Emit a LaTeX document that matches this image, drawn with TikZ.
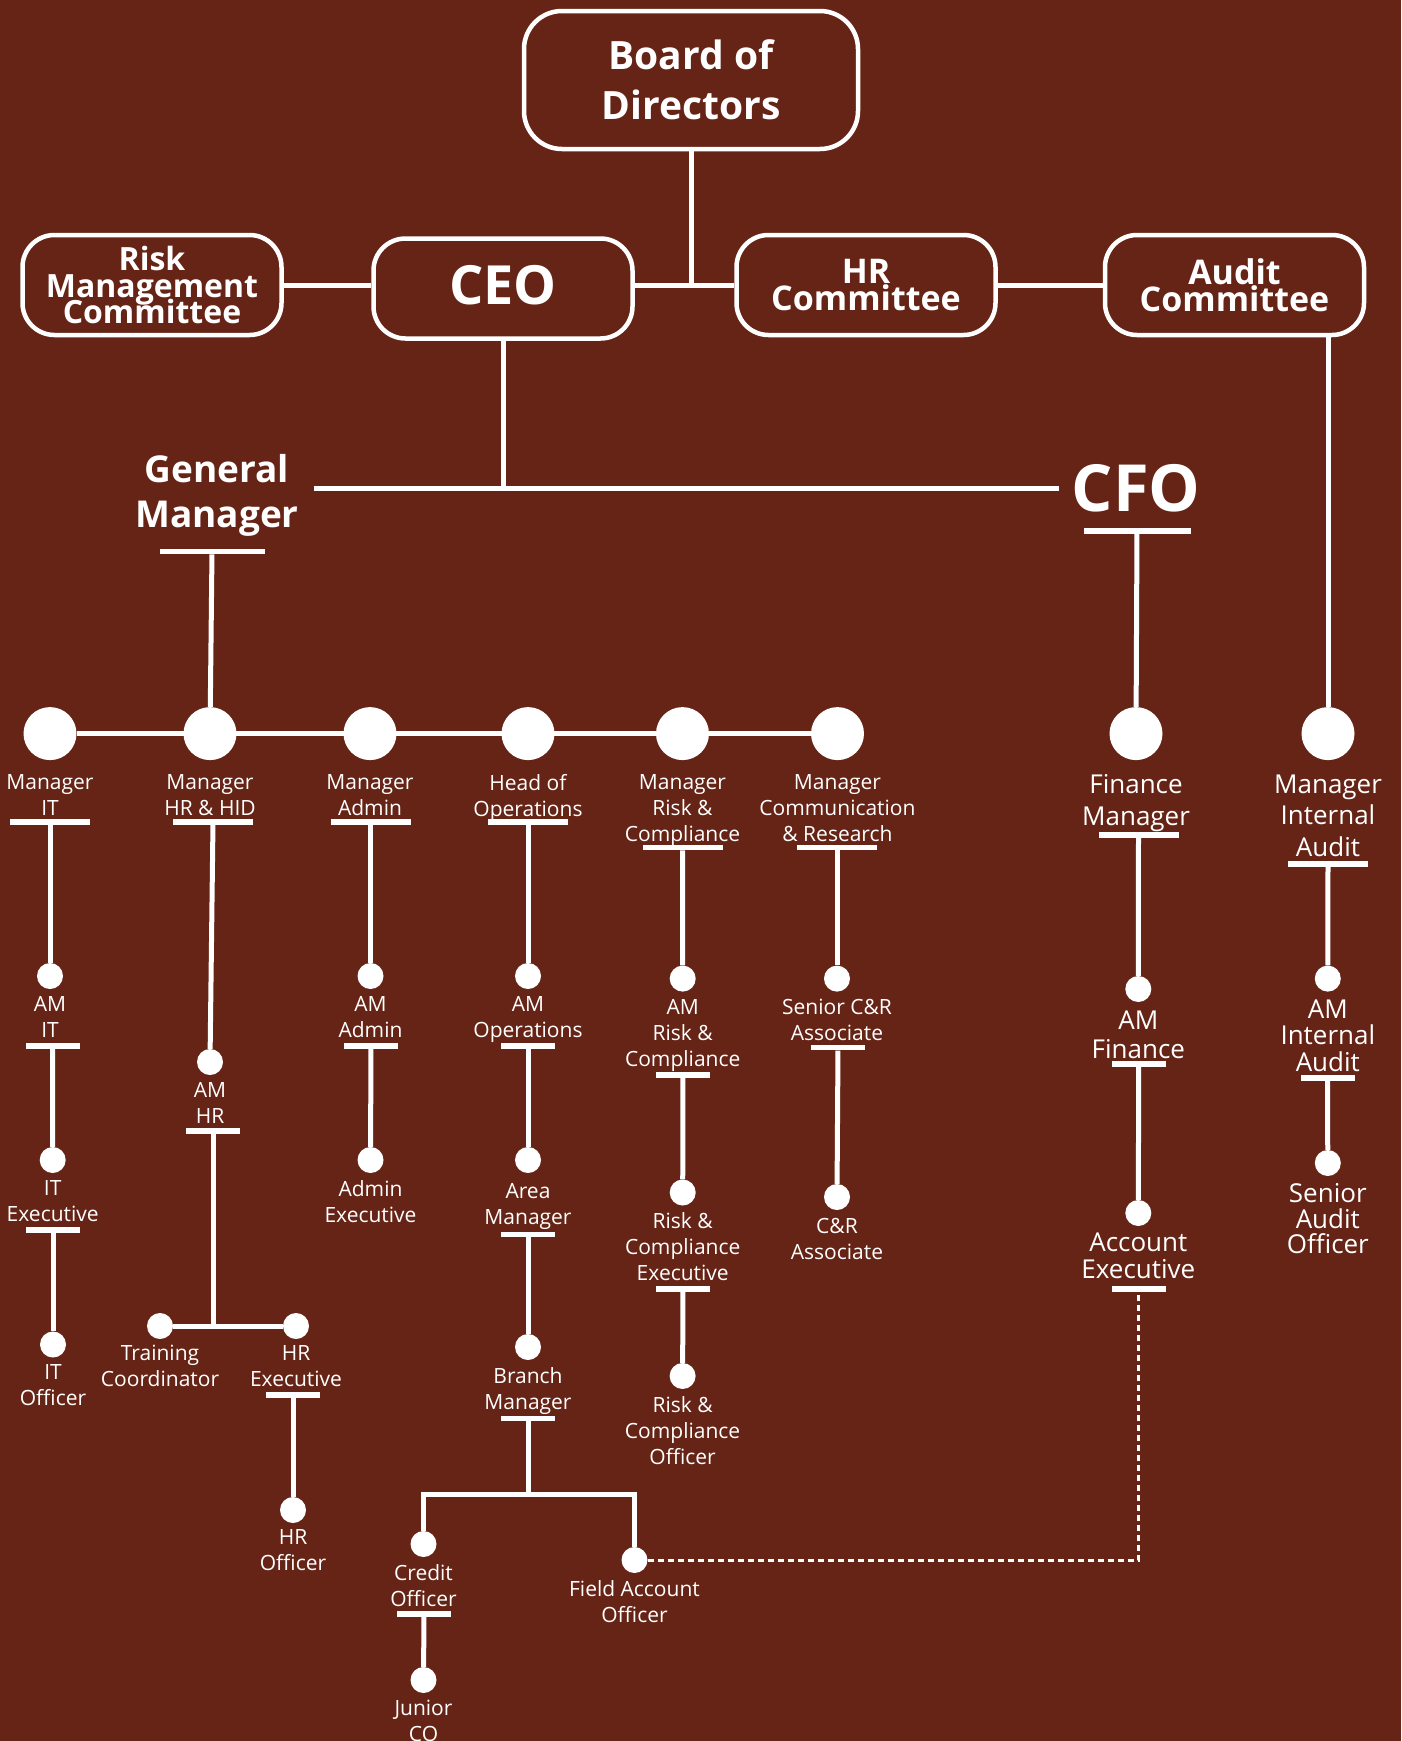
\documentclass[tikz,border=0pt]{standalone}
\usepackage{fontspec}
\setmainfont{Open Sans}
\usetikzlibrary{positioning}
\definecolor{bgbrown}{RGB}{102,36,22}
\newcommand\tightlead{\lineskiplimit-100pt\relax}
\tikzset{
	rolebox/.style={draw=white, line width=4.5pt, rounded corners=32pt, text=white, align=center, inner sep=0pt, minimum width=259pt, minimum height=100pt},
	head/.style={text=white, align=center, inner sep=0pt},
	bigdot/.style={circle, fill=white, minimum size=53pt, inner sep=0pt},
	subdot/.style={circle, fill=white, minimum size=26pt, inner sep=0pt},
	lbl/.style={text=white, align=center, inner sep=0pt, font=\fontsize{21}{26}\selectfont},
	flbl/.style={lbl, font=\fontsize{26}{26.5}\selectfont},
	bar/.style={fill=white, inner sep=0pt, minimum width=80pt, minimum height=5.5pt},
	subbar/.style={bar, minimum width=54pt},
	wire/.style={draw=white, line width=5pt},
	dashlink/.style={draw=white, line width=3pt, dash pattern=on 6pt off 4pt},
}
\begin{document}
\begin{tikzpicture}[x=1pt,y=-1pt]
	\fill[bgbrown] (0,0) rectangle (1401,1741);
	\useasboundingbox (0,0) rectangle (1401,1741);
	% top boxes
	\node[rolebox, minimum width=334pt, minimum height=138pt, rounded corners=38pt, font=\bfseries\fontsize{39}{50}\selectfont]	(board) at (691,80)	{Board of\\Directors};
	\node[rolebox, text depth=8pt, font=\bfseries\fontsize{54}{60}\selectfont]	(ceo) at (503,288.5)	{CEO};
	\node[rolebox, font=\bfseries\fontsize{32}{26.5}\selectfont\tightlead]	(rmc) at (152,285)	{Risk\\Management\\Committee};
	\node[rolebox, font=\bfseries\fontsize{34}{27}\selectfont\tightlead]	(hrc) at (866,285)	{HR\\Committee};
	\node[rolebox, font=\bfseries\fontsize{34}{27}\selectfont\tightlead]	(adc) at (1234.5,285)	{Audit\\Committee};
	\node[head, anchor=north, inner xsep=15pt, font=\bfseries\fontsize{37}{45.5}\selectfont]	(gm) at (217,454)	{General\\Manager};
	\node[head, inner xsep=12pt, font=\bfseries\fontsize{65}{72}\selectfont]	(cfo) at (1136,488.5)	{CFO};
	\node[bar, minimum width=105pt]	(gmbar) at (212,551.5)	{};
	\node[bar, minimum width=107pt]	(cfobar) at (1137,531)	{};
	% managers
	\node[bigdot]	(mitd) at (50,733.6)	{};
	\node[bigdot]	(mhrd) at (210,733.6)	{};
	\node[bigdot]	(madd) at (370,733.6)	{};
	\node[bigdot]	(hopd) at (528,733.6)	{};
	\node[bigdot]	(mrcd) at (682.5,733.6)	{};
	\node[bigdot]	(mcrd) at (837.5,733.6)	{};
	\node[bigdot]	(fmd) at (1136,733.6)	{};
	\node[bigdot]	(miad) at (1328,733.6)	{};
	\node[lbl]	(mit) [below=13.5pt of mitd]	{Manager\\IT};
	\node[lbl]	(mhr) [below=13.5pt of mhrd]	{Manager\\HR \& HID};
	\node[lbl]	(mad) [below=13.5pt of madd]	{Manager\\Admin};
	\node[lbl]	(hop) [below=13.5pt of hopd]	{Head of\\Operations};
	\node[lbl]	(mrc) [below=13.5pt of mrcd]	{Manager\\Risk \&\\Compliance};
	\node[lbl]	(mcr) [below=13.5pt of mcrd]	{Manager\\Communication\\\& Research};
	\node[flbl, font=\fontsize{26}{32}\selectfont]	(fm) [below=14pt of fmd]	{Finance\\Manager};
	\node[flbl, font=\fontsize{26}{31.7}\selectfont]	(mia) [below=14pt of miad]	{Manager\\Internal\\Audit};
	\node[bar]	(mitb) at (50,822)	{};
	\node[bar]	(mhrb) at (213,822)	{};
	\node[bar]	(madb) at (370.5,822)	{};
	\node[bar]	(hopb) at (528,822)	{};
	\node[bar]	(mrcb) at (682.5,847.5)	{};
	\node[bar]	(mcrb) at (837,847.5)	{};
	\node[bar]	(fmb) at (1138.5,835)	{};
	\node[bar]	(miab) at (1328,864)	{};
	% assistant managers
	\node[subdot]	(amitd) at (50,976)	{};
	\node[subdot]	(amhrd) at (210,1062)	{};
	\node[subdot]	(amadd) at (370.5,976)	{};
	\node[subdot]	(amopd) at (528,976)	{};
	\node[subdot]	(amrcd) at (682.7,978.6)	{};
	\node[subdot]	(scrd) at (837,978.6)	{};
	\node[subdot]	(amfd) at (1138.3,989)	{};
	\node[subdot]	(amiad) at (1327.8,978.6)	{};
	\node[lbl]	(amit) [below=7pt of amitd]	{AM\\IT};
	\node[lbl]	(amhr) [below=7pt of amhrd]	{AM\\HR};
	\node[lbl]	(amad) [below=7pt of amadd]	{AM\\Admin};
	\node[lbl]	(amop) [below=7pt of amopd]	{AM\\Operations};
	\node[lbl]	(amrc) [below=7pt of amrcd]	{AM\\Risk \&\\Compliance};
	\node[lbl]	(scr) [below=7pt of scrd]	{Senior C\&R\\Associate};
	\node[flbl, font=\fontsize{26}{29}\selectfont]	(amf) [below=8pt of amfd]	{AM\\Finance};
	\node[flbl]	(amia) [below=7.5pt of amiad]	{AM\\Internal\\Audit};
	\node[subbar]	(amitb) at (52.6,1046)	{};
	\node[subbar]	(amhrb) at (213,1131)	{};
	\node[subbar]	(amadb) at (371,1046)	{};
	\node[subbar]	(amopb) at (528,1046)	{};
	\node[subbar]	(amrcb) at (683,1075)	{};
	\node[subbar]	(scrb) at (838,1047.7)	{};
	\node[subbar]	(amfb) at (1138.7,1064)	{};
	\node[subbar]	(amiab) at (1327.5,1078)	{};
	% executives
	\node[subdot]	(itexd) at (52.7,1160)	{};
	\coordinate	(hrj) at (213,1326);
	\node[subdot]	(trd) at (160,1326)	{};
	\node[subdot]	(hrexd) at (296,1326)	{};
	\node[subdot]	(adexd) at (370.5,1160)	{};
	\node[subdot]	(aread) at (528,1160)	{};
	\node[subdot]	(rcexd) at (682.7,1192.5)	{};
	\node[subdot]	(crad) at (837,1197)	{};
	\node[subdot]	(acexd) at (1138.3,1213)	{};
	\node[subdot]	(saod) at (1327.8,1163)	{};
	\node[lbl]	(itex) [below=7pt of itexd]	{IT\\Executive};
	\node[lbl]	(tr) [below=6pt of trd]	{Training\\Coordinator};
	\node[lbl]	(hrex) [below=6pt of hrexd]	{HR\\Executive};
	\node[lbl]	(adex) [below=7pt of adexd]	{Admin\\Executive};
	\node[lbl]	(area) [below=10pt of aread]	{Area\\Manager};
	\node[lbl]	(rcex) [below=6.5pt of rcexd]	{Risk \&\\Compliance\\Executive};
	\node[lbl]	(cra) [below=7.5pt of crad]	{C\&R\\Associate};
	\node[flbl, font=\fontsize{26}{27}\selectfont]	(acex) [below=6pt of acexd]	{Account\\Executive};
	\node[flbl, font=\fontsize{26}{25.5}\selectfont]	(sao) [below=7.5pt of saod]	{Senior\\Audit\\Officer};
	\node[subbar]	(itexb) at (53,1230)	{};
	\node[subbar]	(hrexb) at (293,1395)	{};
	\node[subbar]	(areab) at (528,1234.5)	{};
	\node[subbar]	(rcexb) at (683,1289)	{};
	\node[subbar]	(acexb) at (1138.7,1289)	{};
	% officers
	\node[subdot]	(itod) at (53,1344.5)	{};
	\node[subdot]	(hrod) at (293,1510)	{};
	\node[subdot]	(brd) at (528,1347)	{};
	\node[subdot]	(rcod) at (682.6,1376)	{};
	\node[lbl]	(ito) [below=7pt of itod]	{IT\\Officer};
	\node[lbl]	(hro) [below=6pt of hrod]	{HR\\Officer};
	\node[lbl]	(br) [below=7pt of brd]	{Branch\\Manager};
	\node[lbl]	(rco) [below=7pt of rcod]	{Risk \&\\Compliance\\Officer};
	\node[subbar]	(brb) at (528,1418.5)	{};
	\coordinate	(brj) at (528,1494);
	\node[subdot]	(cod) at (423.5,1544)	{};
	\node[subdot]	(fad) at (634.5,1560)	{};
	\node[lbl]	(co) [below=7pt of cod]	{Credit\\Officer};
	\node[lbl]	(fa) [below=7pt of fad]	{Field Account\\Officer};
	\node[subbar]	(cob) at (424,1614)	{};
	\node[subdot]	(jcod) at (423.5,1680)	{};
	\node[lbl]	(jco) [below=7pt of jcod]	{Junior\\CO};
	\path[wire]
	(rmc.east) edge (rmc.east -| ceo.west)
	(hrc.west -| ceo.east) edge (hrc.west)
	(hrc.east) edge (adc.west)
	(board.south) edge (board.south |- hrc.west)
	(ceo.south) edge (ceo.south |- cfo.west)
	(gm.east |- cfo.west) edge (cfo.west)
	(gmbar) edge (mhrd)
	(cfobar) edge (fmd)
	(miad |- adc.south) edge (miad)
	(mitd) edge (mcrd)
	(mitb) edge (amitd)
	(amitb) edge (itexd)
	(itexb) edge (itod)
	(mhrb) edge (amhrd)
	(amhrb) edge (hrj)
	(trd) edge (hrexd)
	(hrexb) edge (hrod)
	(madb) edge (amadd)
	(amadb) edge (adexd)
	(hopb) edge (amopd)
	(amopb) edge (aread)
	(areab) edge (brd)
	(brb) edge (brj)
	(mrcb) edge (amrcd)
	(amrcb) edge (rcexd)
	(rcexb) edge (rcod)
	(mcrb) edge (scrd)
	(scrb) edge (crad)
	(fmb) edge (amfd)
	(amfb) edge (acexd)
	(miab) edge (amiad)
	(amiab) edge (saod)
	(cob) edge (jcod)
	;
	\draw[wire] (cod) |- (brj) -| (fad);
	\draw[dashlink] (fad) -| (acexb);
\end{tikzpicture}
\end{document}
